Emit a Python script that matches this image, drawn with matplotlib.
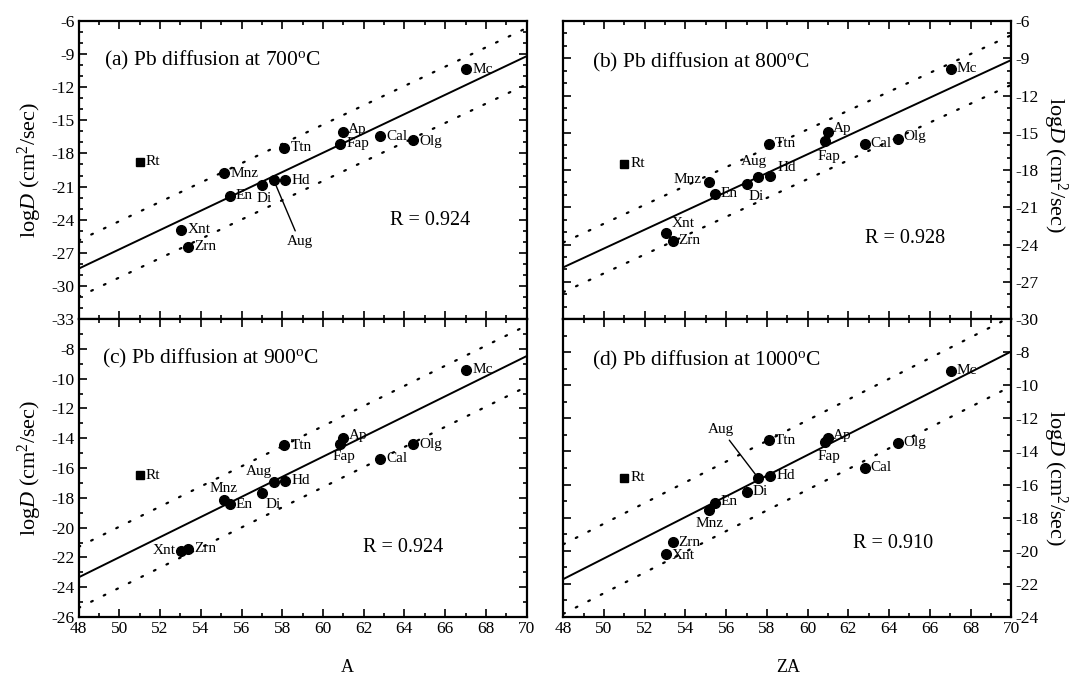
import numpy as np
import matplotlib
matplotlib.use('Agg')
import matplotlib.pyplot as plt
from matplotlib.ticker import MultipleLocator

# ---------------- data ----------------
minerals = ['Mc', 'Ap', 'Fap', 'Cal', 'Olg', 'Ttn', 'Rt', 'Mnz', 'Hd', 'Aug', 'Di', 'En', 'Xnt', 'Zrn']
x_vals = [67.04, 60.99, 60.85, 62.80, 64.42, 58.10, 51.00, 55.15, 58.16, 57.58, 57.00, 55.43, 53.05, 53.37]
logD_700 = [-10.35, -16.08, -17.14, -16.44, -16.78, -17.47, -18.74, -19.80, -20.43, -20.40, -20.86, -21.82, -24.93, -26.44]
logD_800 = [-9.86, -14.91, -15.66, -15.90, -15.50, -15.90, -17.51, -18.94, -18.48, -18.53, -19.10, -19.93, -23.10, -23.69]
logD_900 = [-9.42, -13.97, -14.41, -15.37, -14.39, -14.48, -16.47, -18.15, -16.85, -16.92, -17.66, -18.44, -21.55, -21.41]
logD_1000 = [-9.14, -13.17, -13.41, -14.98, -13.47, -13.33, -15.60, -17.54, -15.47, -15.62, -16.43, -17.13, -20.18, -19.49]
temps = [700, 800, 900, 1000]
panel_tags = ['(a)', '(b)', '(c)', '(d)']
R_values = [0.924, 0.928, 0.924, 0.910]
fit_slope = [0.875, 0.759, 0.675, 0.625]
fit_intercept = [-70.44, -62.27, -55.74, -51.71]
band_halfwidth = [2.55, 2.0, 2.05, 2.1]
x_label_left = 'A'
x_label_right = 'ZA'

# ---------------- style ----------------
plt.rcParams['font.family'] = ['Liberation Serif', 'DejaVu Serif']
plt.rcParams['mathtext.fontset'] = 'custom'
plt.rcParams['mathtext.rm'] = 'Liberation Serif'
plt.rcParams['mathtext.it'] = 'Liberation Serif:italic'
plt.rcParams['axes.unicode_minus'] = False

W, H = 1081, 675
fig = plt.figure(figsize=(W / 100, H / 100), dpi=100)

def fx(px):
    return px / W

def fy(py):
    return 1 - py / H

left_x0, right_x0, pw = 78.6, 563.3, 448.0
top_y0, mid_y, bot_y = 21.0, 319.0, 617.0
ph = mid_y - top_y0

axes_rects = [
    (fx(left_x0), fy(mid_y), pw / W, ph / H),
    (fx(right_x0), fy(mid_y), pw / W, ph / H),
    (fx(left_x0), fy(bot_y), pw / W, ph / H),
    (fx(right_x0), fy(bot_y), pw / W, ph / H),
]
ylims = [(-33, -6), (-30, -6), (-26, -6), (-24, -6)]
yticks_list = [np.arange(-33, -5, 3), np.arange(-30, -5, 3), np.arange(-26, -7, 2), np.arange(-24, -7, 2)]
series = [logD_700, logD_800, logD_900, logD_1000]

# label offsets (pixels) and alignment per panel; default = right of point
default_off = (6, 0, 'left', 'center')
special = [
    {'Di': (-5, -13, 'left', 'center'), 'Olg': (6, -2, 'left', 'center'),
     'Ap': (5, 3, 'left', 'center')},
    {'Mnz': (-7, 2, 'right', 'center'), 'Aug': (-4, 15, 'center', 'center'),
     'Di': (10, -13, 'center', 'center'), 'Fap': (4, -16, 'center', 'center'),
     'Xnt': (17, 10, 'center', 'center'), 'Hd': (7, 8, 'left', 'center'),
     'Ap': (5, 3, 'left', 'center'), 'Olg': (6, 2, 'left', 'center')},
    {'Aug': (-15, 10, 'center', 'center'), 'Mnz': (-1, 12, 'center', 'center'),
     'Fap': (4, -12, 'center', 'center'), 'Di': (11, -12, 'center', 'center'),
     'Xnt': (-6, 0, 'right', 'center'), 'Ap': (6, 2, 'left', 'center')},
    {'Mnz': (1, -13, 'center', 'center'), 'Fap': (4, -15, 'center', 'center'),
     'En': (6, 2, 'left', 'center'), 'Xnt': (6, -2, 'left', 'center'),
     'Ap': (5, 2, 'left', 'center')},
]
# Aug leader lines (offset pixels of the label) for panels a and d
aug_leader = {0: (26, -55, 'center', 'top'), 3: (-37, 42, 'center', 'bottom')}

title_pos = [(0.057, 0.869), (0.063, 0.860), (0.052, 0.868), (0.063, 0.860)]
r_pos = [(0.784, 0.332), (0.762, 0.271), (0.725, 0.233), (0.736, 0.245)]

xline = np.array([48.0, 70.0])

for i, rect in enumerate(axes_rects):
    ax = fig.add_axes(rect)
    ax.set_xlim(48, 70)
    ax.set_ylim(*ylims[i])
    ax.set_xticks(np.arange(48, 71, 2))
    ax.xaxis.set_minor_locator(MultipleLocator(1))
    ax.set_yticks(yticks_list[i])
    ax.yaxis.set_minor_locator(MultipleLocator(1))
    for s in ax.spines.values():
        s.set_linewidth(1.6)
    ax.tick_params(which='both', direction='in', top=True, bottom=True, left=True, right=True,
                   width=1.2, labelsize=12.5, pad=3)
    ax.tick_params(which='major', length=6)
    ax.tick_params(which='minor', length=3)
    if i < 2:
        ax.tick_params(labelbottom=False)
    if i % 2 == 1:
        ax.tick_params(labelleft=False, labelright=True)

    # regression line and band
    yfit = fit_intercept[i] + fit_slope[i] * xline
    ax.plot(xline, yfit, color='black', lw=1.4, zorder=2)
    for sgn in (1, -1):
        ax.plot(xline, yfit + sgn * band_halfwidth[i], color='black', lw=1.6,
                linestyle=(0, (0.8, 5.5)), dash_capstyle='round', zorder=2)

    ys = series[i]
    for name, xv, yv in zip(minerals, x_vals, ys):
        if name == 'Rt':
            ax.plot(xv, yv, marker='s', color='black', markersize=5.5, linestyle='none', zorder=3)
        else:
            ax.plot(xv, yv, marker='o', color='black', markersize=7, linestyle='none', zorder=3)
        if name == 'Aug' and i in aug_leader:
            dx, dy, ha, va = aug_leader[i]
            ax.annotate(name, xy=(xv, yv), xytext=(dx, dy), textcoords='offset pixels',
                        ha=ha, va=va, fontsize=11,
                        arrowprops=dict(arrowstyle='-', lw=1.0, color='black', shrinkA=1, shrinkB=3))
            continue
        dx, dy, ha, va = special[i].get(name, default_off)
        ax.annotate(name, xy=(xv, yv), xytext=(dx, dy), textcoords='offset pixels',
                    ha=ha, va=va, fontsize=11)

    ax.text(title_pos[i][0], title_pos[i][1],
            panel_tags[i] + ' Pb diffusion at %d$^{\\rm o}$C' % temps[i],
            transform=ax.transAxes, fontsize=15.5, ha='left', va='center')
    ax.text(r_pos[i][0], r_pos[i][1], 'R = %.3f' % R_values[i], transform=ax.transAxes,
            fontsize=14.5, ha='center', va='center')

ylab = 'log$\\it{D}$ (cm$^{2}$/sec)'
fig.text(fx(30), fy(170), ylab, rotation=90, ha='center', va='center', fontsize=16)
fig.text(fx(30), fy(468), ylab, rotation=90, ha='center', va='center', fontsize=16)
fig.text(fx(1055), fy(165), ylab, rotation=270, ha='center', va='center', fontsize=16)
fig.text(fx(1055), fy(478), ylab, rotation=270, ha='center', va='center', fontsize=16)
fig.text(fx(347), fy(667), x_label_left, ha='center', va='center', fontsize=13)
fig.text(fx(788), fy(667), x_label_right, ha='center', va='center', fontsize=13)

fig.savefig('out.png', dpi=100)
